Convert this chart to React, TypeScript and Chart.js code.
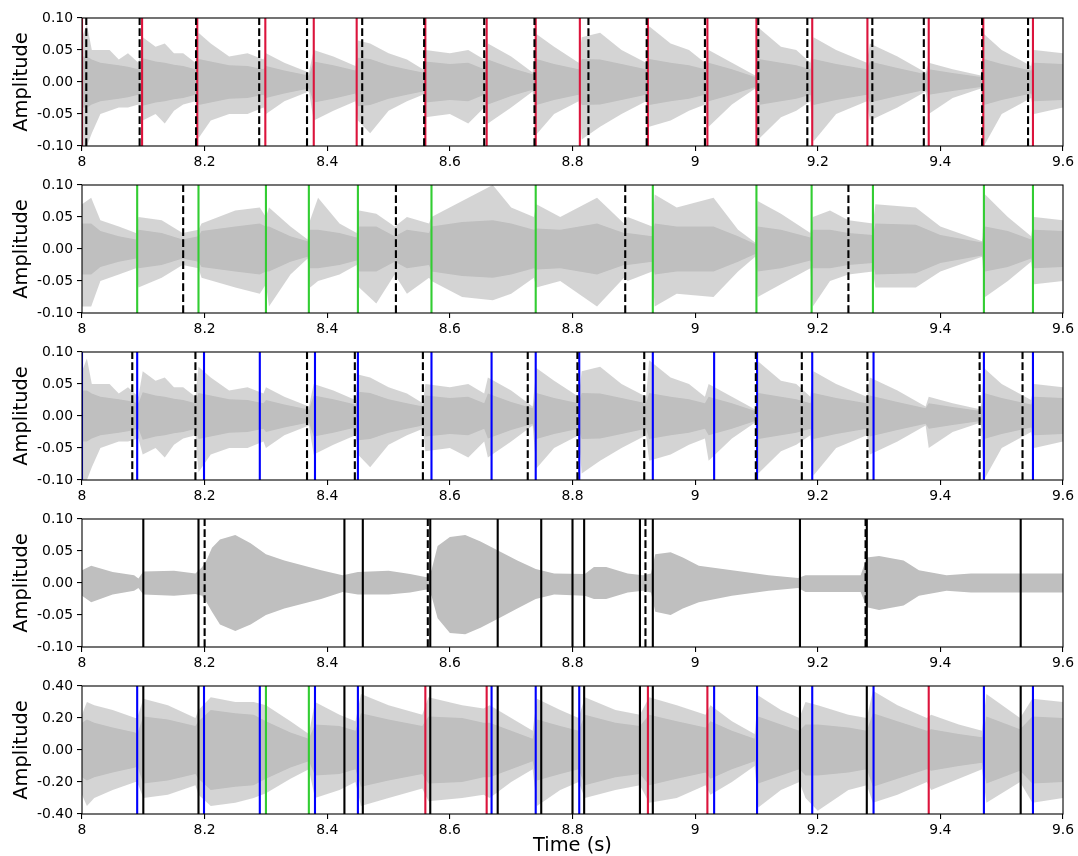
import React, { useEffect, useRef } from "react";
import { Chart, registerables } from "chart.js";
Chart.register(...registerables);

const FONT = "'DejaVu Sans', sans-serif";
const GRAY = "#bfbfbf";
const GRAY_SPIKES = "rgba(191,191,191,0.68)";

// ---- tick values ----
const xTicks = [8, 8.2, 8.4, 8.6, 8.8, 9, 9.2, 9.4, 9.6];
const yTicksStem = [-0.1, -0.05, 0, 0.05, 0.1];
const yTicksMix = [-0.4, -0.2, 0, 0.2, 0.4];

// ---- waveform envelopes: [time, upper peak, lower peak, dense core half-width] ----
// panels 1 and 3 show the same signal
const percEnvelope: number[][] = [
  [8.0, 0.07, -0.1, 0.04], [8.008, 0.09, -0.1, 0.04], [8.016, 0.05, -0.08, 0.035], [8.03, 0.05, -0.05, 0.03],
  [8.045, 0.05, -0.045, 0.028], [8.06, 0.035, -0.04, 0.026], [8.075, 0.045, -0.04, 0.024], [8.092, 0.03, -0.035, 0.02],
  [8.099, 0.07, -0.06, 0.037], [8.12, 0.055, -0.05, 0.032], [8.135, 0.06, -0.065, 0.03], [8.15, 0.045, -0.045, 0.027],
  [8.165, 0.045, -0.035, 0.025], [8.185, 0.03, -0.03, 0.02], [8.19, 0.077, -0.088, 0.036], [8.21, 0.06, -0.06, 0.032],
  [8.24, 0.04, -0.05, 0.026], [8.27, 0.045, -0.05, 0.025], [8.296, 0.035, -0.04, 0.02], [8.3, 0.045, -0.05, 0.025],
  [8.33, 0.03, -0.03, 0.018], [8.37, 0.015, -0.015, 0.01], [8.378, 0.05, -0.06, 0.032], [8.41, 0.04, -0.045, 0.026],
  [8.446, 0.025, -0.03, 0.018], [8.45, 0.065, -0.06, 0.038], [8.47, 0.06, -0.08, 0.036], [8.5, 0.045, -0.045, 0.026],
  [8.53, 0.035, -0.03, 0.02], [8.556, 0.02, -0.02, 0.015], [8.56, 0.05, -0.055, 0.032], [8.6, 0.045, -0.05, 0.028],
  [8.63, 0.05, -0.065, 0.03], [8.656, 0.035, -0.04, 0.02], [8.662, 0.06, -0.065, 0.035], [8.7, 0.04, -0.04, 0.022],
  [8.735, 0.015, -0.015, 0.012], [8.741, 0.075, -0.082, 0.036], [8.77, 0.055, -0.05, 0.028], [8.81, 0.03, -0.03, 0.02],
  [8.815, 0.07, -0.09, 0.036], [8.845, 0.077, -0.07, 0.035], [8.88, 0.05, -0.05, 0.028], [8.92, 0.03, -0.03, 0.02],
  [8.925, 0.087, -0.07, 0.036], [8.96, 0.06, -0.06, 0.03], [8.99, 0.05, -0.045, 0.026], [9.016, 0.03, -0.035, 0.02],
  [9.022, 0.05, -0.07, 0.03], [9.06, 0.03, -0.035, 0.02], [9.098, 0.01, -0.01, 0.008], [9.103, 0.085, -0.09, 0.036],
  [9.14, 0.055, -0.055, 0.03], [9.165, 0.05, -0.045, 0.026], [9.188, 0.03, -0.03, 0.02], [9.193, 0.07, -0.093, 0.036],
  [9.23, 0.05, -0.05, 0.028], [9.28, 0.03, -0.03, 0.02], [9.285, 0.06, -0.06, 0.032], [9.33, 0.04, -0.04, 0.022],
  [9.376, 0.015, -0.015, 0.012], [9.381, 0.03, -0.05, 0.02], [9.42, 0.02, -0.025, 0.014], [9.466, 0.01, -0.01, 0.008],
  [9.471, 0.075, -0.1, 0.036], [9.5, 0.05, -0.05, 0.028], [9.548, 0.025, -0.025, 0.018], [9.553, 0.05, -0.05, 0.03],
  [9.6, 0.045, -0.04, 0.028],
];

const panel2Envelope: number[][] = [
  [8.0, 0.07, -0.09, 0.04], [8.015, 0.08, -0.09, 0.04], [8.03, 0.045, -0.05, 0.028], [8.06, 0.035, -0.04, 0.02],
  [8.088, 0.025, -0.03, 0.015], [8.092, 0.05, -0.06, 0.03], [8.13, 0.045, -0.045, 0.025], [8.164, 0.025, -0.025, 0.015],
  [8.19, 0.03, -0.03, 0.02], [8.195, 0.04, -0.045, 0.028], [8.25, 0.06, -0.06, 0.035], [8.29, 0.065, -0.07, 0.04],
  [8.3, 0.05, -0.055, 0.035], [8.305, 0.065, -0.09, 0.035], [8.34, 0.035, -0.04, 0.02], [8.368, 0.015, -0.015, 0.012],
  [8.372, 0.045, -0.06, 0.03], [8.385, 0.08, -0.05, 0.03], [8.42, 0.04, -0.04, 0.025], [8.448, 0.025, -0.025, 0.018],
  [8.452, 0.06, -0.06, 0.035], [8.48, 0.055, -0.085, 0.035], [8.51, 0.035, -0.04, 0.02], [8.53, 0.05, -0.07, 0.03],
  [8.566, 0.04, -0.045, 0.025], [8.57, 0.05, -0.05, 0.035], [8.62, 0.075, -0.075, 0.042], [8.67, 0.1, -0.08, 0.045],
  [8.7, 0.065, -0.07, 0.04], [8.737, 0.05, -0.045, 0.03], [8.741, 0.07, -0.06, 0.032], [8.78, 0.05, -0.05, 0.03],
  [8.84, 0.08, -0.09, 0.04], [8.884, 0.04, -0.045, 0.025], [8.89, 0.05, -0.05, 0.025], [8.93, 0.035, -0.035, 0.02],
  [8.934, 0.085, -0.09, 0.04], [8.97, 0.065, -0.07, 0.035], [9.03, 0.08, -0.075, 0.035], [9.07, 0.03, -0.035, 0.02],
  [9.098, 0.01, -0.012, 0.008], [9.102, 0.075, -0.075, 0.035], [9.14, 0.055, -0.055, 0.03], [9.188, 0.025, -0.03, 0.018],
  [9.192, 0.05, -0.09, 0.03], [9.22, 0.06, -0.05, 0.03], [9.25, 0.045, -0.04, 0.025], [9.29, 0.04, -0.035, 0.022],
  [9.294, 0.07, -0.06, 0.04], [9.36, 0.065, -0.06, 0.038], [9.4, 0.035, -0.035, 0.022], [9.468, 0.012, -0.012, 0.01],
  [9.473, 0.085, -0.075, 0.035], [9.51, 0.05, -0.05, 0.028], [9.548, 0.02, -0.02, 0.015], [9.553, 0.05, -0.055, 0.03],
  [9.6, 0.045, -0.05, 0.028],
];

// tonal signal: [time, upper, lower]
const panel4Envelope: number[][] = [
  [8.0, 0.02, -0.02], [8.015, 0.027, -0.03], [8.05, 0.017, -0.018], [8.085, 0.012, -0.012], [8.092, 0.007, -0.008],
  [8.1, 0.018, -0.018], [8.15, 0.019, -0.02], [8.185, 0.015, -0.017], [8.196, 0.025, -0.02], [8.203, 0.035, -0.03],
  [8.212, 0.055, -0.045], [8.225, 0.068, -0.065], [8.25, 0.075, -0.075], [8.275, 0.062, -0.065], [8.3, 0.045, -0.05],
  [8.33, 0.035, -0.04], [8.39, 0.02, -0.025], [8.425, 0.012, -0.014], [8.45, 0.017, -0.018], [8.5, 0.019, -0.018],
  [8.535, 0.014, -0.015], [8.562, 0.009, -0.01], [8.57, 0.02, -0.02], [8.58, 0.058, -0.055], [8.6, 0.072, -0.078],
  [8.625, 0.075, -0.08], [8.65, 0.065, -0.07], [8.68, 0.05, -0.055], [8.71, 0.035, -0.04], [8.74, 0.022, -0.025],
  [8.77, 0.015, -0.018], [8.82, 0.014, -0.02], [8.835, 0.025, -0.025], [8.855, 0.025, -0.025], [8.89, 0.015, -0.015],
  [8.915, 0.012, -0.012], [8.928, 0.015, -0.015], [8.935, 0.045, -0.045], [8.96, 0.048, -0.05], [8.98, 0.04, -0.04],
  [9.006, 0.027, -0.03], [9.06, 0.02, -0.02], [9.12, 0.012, -0.012], [9.168, 0.008, -0.008], [9.18, 0.012, -0.014],
  [9.27, 0.012, -0.014], [9.28, 0.04, -0.038], [9.3, 0.042, -0.042], [9.34, 0.035, -0.035], [9.365, 0.02, -0.02],
  [9.41, 0.012, -0.012], [9.45, 0.015, -0.015], [9.6, 0.015, -0.015],
];

const mixEnvelope: number[][] = [
  [8.0, 0.22, -0.28, 0.17], [8.008, 0.3, -0.35, 0.19], [8.02, 0.28, -0.3, 0.17], [8.05, 0.25, -0.25, 0.14],
  [8.087, 0.2, -0.2, 0.11], [8.09, 0.2, -0.2, 0.1], [8.1, 0.32, -0.3, 0.21], [8.14, 0.28, -0.28, 0.19],
  [8.185, 0.2, -0.22, 0.15], [8.19, 0.25, -0.28, 0.18], [8.21, 0.33, -0.35, 0.25], [8.25, 0.3, -0.33, 0.23],
  [8.28, 0.3, -0.3, 0.22], [8.3, 0.28, -0.27, 0.18], [8.34, 0.18, -0.18, 0.11], [8.37, 0.1, -0.12, 0.07],
  [8.38, 0.3, -0.3, 0.16], [8.42, 0.22, -0.25, 0.15], [8.446, 0.18, -0.2, 0.12], [8.455, 0.35, -0.35, 0.23],
  [8.5, 0.28, -0.3, 0.19], [8.555, 0.22, -0.24, 0.15], [8.565, 0.33, -0.32, 0.21], [8.62, 0.28, -0.3, 0.2],
  [8.655, 0.26, -0.28, 0.17], [8.665, 0.28, -0.3, 0.17], [8.7, 0.2, -0.2, 0.12], [8.735, 0.12, -0.12, 0.07],
  [8.742, 0.32, -0.35, 0.19], [8.78, 0.25, -0.25, 0.15], [8.81, 0.2, -0.2, 0.12], [8.82, 0.33, -0.3, 0.22],
  [8.87, 0.25, -0.25, 0.17], [8.91, 0.22, -0.22, 0.15], [8.925, 0.33, -0.33, 0.22], [8.97, 0.28, -0.3, 0.18],
  [9.017, 0.22, -0.22, 0.14], [9.025, 0.28, -0.28, 0.18], [9.06, 0.18, -0.2, 0.12], [9.097, 0.1, -0.1, 0.07],
  [9.103, 0.34, -0.36, 0.21], [9.14, 0.25, -0.25, 0.16], [9.17, 0.2, -0.2, 0.12], [9.18, 0.3, -0.3, 0.16],
  [9.2, 0.28, -0.38, 0.16], [9.25, 0.22, -0.25, 0.14], [9.28, 0.2, -0.22, 0.12], [9.29, 0.37, -0.33, 0.23],
  [9.33, 0.28, -0.28, 0.18], [9.378, 0.2, -0.2, 0.12], [9.385, 0.22, -0.25, 0.13], [9.43, 0.16, -0.18, 0.1],
  [9.468, 0.12, -0.12, 0.08], [9.475, 0.35, -0.33, 0.21], [9.53, 0.2, -0.2, 0.13], [9.55, 0.32, -0.33, 0.21],
  [9.6, 0.3, -0.3, 0.2],
];

// ---- vertical markers (seconds) ----
const p1Red = [8.0, 8.098, 8.188, 8.299, 8.378, 8.448, 8.56, 8.66, 8.74, 8.812, 8.923, 9.02, 9.1, 9.191, 9.281, 9.381, 9.47, 9.551];
const p1Dashed = [8.007, 8.094, 8.186, 8.289, 8.367, 8.457, 8.558, 8.656, 8.738, 8.826, 8.921, 9.016, 9.103, 9.183, 9.289, 9.373, 9.468, 9.543];
const p2Green = [8.09, 8.19, 8.3, 8.37, 8.45, 8.57, 8.74, 8.931, 9.1, 9.19, 9.29, 9.471, 9.551];
const p2Dashed = [8.165, 8.512, 8.886, 9.25];
const p3Blue = [8.0, 8.09, 8.199, 8.29, 8.38, 8.45, 8.57, 8.668, 8.74, 8.811, 8.931, 9.031, 9.101, 9.191, 9.291, 9.471, 9.551];
const p3Dashed = [8.082, 8.185, 8.367, 8.445, 8.556, 8.727, 8.808, 8.917, 9.099, 9.174, 9.281, 9.464, 9.534];
const p4Solid = [8.1, 8.19, 8.428, 8.458, 8.568, 8.678, 8.749, 8.8, 8.819, 8.91, 8.931, 9.171, 9.28, 9.531];
const p4Dashed = [8.2, 8.564, 8.919, 9.278];
const p5Black = [8.1, 8.19, 8.428, 8.458, 8.568, 8.678, 8.749, 8.8, 8.819, 8.91, 8.931, 9.171, 9.28, 9.531];
const p5Blue = [8.09, 8.199, 8.29, 8.38, 8.45, 8.668, 8.74, 8.811, 9.031, 9.101, 9.191, 9.291, 9.471, 9.551];
const p5Green = [8.3, 8.37];
const p5Red = [8.56, 8.66, 8.923, 9.02, 9.381];

const RED = "#dc143c";
const GREEN = "#32cd32";
const BLUE = "#0000ff";
const BLACK = "#000000";

interface LineSet { times: number[]; color: string; dashed: boolean; order: number }
interface PanelSpec { env: number[][]; yMax: number; yTicks: number[]; lines: LineSet[]; top: number; height: number; last: boolean }

const PLOT_TOP = 18;
const PLOT_H = 128;
const PLOT_LEFT = 82;
const PLOT_RIGHT_PAD = 15;

const panels: PanelSpec[] = [
  { env: percEnvelope, yMax: 0.1, yTicks: yTicksStem, top: 0, height: 167, last: false,
    lines: [ { times: p1Red, color: RED, dashed: false, order: 2 }, { times: p1Dashed, color: BLACK, dashed: true, order: 1 } ] },
  { env: panel2Envelope, yMax: 0.1, yTicks: yTicksStem, top: 167, height: 167, last: false,
    lines: [ { times: p2Green, color: GREEN, dashed: false, order: 2 }, { times: p2Dashed, color: BLACK, dashed: true, order: 1 } ] },
  { env: percEnvelope, yMax: 0.1, yTicks: yTicksStem, top: 334, height: 167, last: false,
    lines: [ { times: p3Blue, color: BLUE, dashed: false, order: 2 }, { times: p3Dashed, color: BLACK, dashed: true, order: 1 } ] },
  { env: panel4Envelope, yMax: 0.1, yTicks: yTicksStem, top: 501, height: 167, last: false,
    lines: [ { times: p4Solid, color: BLACK, dashed: false, order: 2 }, { times: p4Dashed, color: BLACK, dashed: true, order: 1 } ] },
  { env: mixEnvelope, yMax: 0.4, yTicks: yTicksMix, top: 668, height: 188, last: true,
    lines: [
      { times: p5Black, color: BLACK, dashed: false, order: 4 },
      { times: p5Blue, color: BLUE, dashed: false, order: 3 },
      { times: p5Green, color: GREEN, dashed: false, order: 2 },
      { times: p5Red, color: RED, dashed: false, order: 1 },
    ] },
];

const framePlugin = {
  id: "frame",
  afterDatasetsDraw(chart: any) {
    const { ctx, chartArea } = chart;
    ctx.save();
    ctx.strokeStyle = "#000";
    ctx.lineWidth = 1.1;
    ctx.strokeRect(chartArea.left, chartArea.top, chartArea.right - chartArea.left, chartArea.bottom - chartArea.top);
    ctx.restore();
  },
};

function buildDatasets(spec: PanelSpec): any[] {
  const ds: any[] = [];
  const hasCore = spec.env[0].length > 3;
  const base = { pointRadius: 0, borderColor: "rgba(0,0,0,0)", borderWidth: 1, tension: 0 };
  ds.push({ ...base, data: spec.env.map((r) => ({ x: r[0], y: r[1] })), fill: "+1", backgroundColor: hasCore ? GRAY_SPIKES : GRAY, order: 20 });
  ds.push({ ...base, data: spec.env.map((r) => ({ x: r[0], y: r[2] })), fill: false, order: 19 });
  if (hasCore) {
    ds.push({ ...base, data: spec.env.map((r) => ({ x: r[0], y: r[3] })), fill: "+1", backgroundColor: GRAY, order: 18 });
    ds.push({ ...base, data: spec.env.map((r) => ({ x: r[0], y: -r[3] })), fill: false, order: 17 });
  }
  for (const l of spec.lines) {
    ds.push({
      data: l.times.flatMap((t) => [ { x: t, y: -spec.yMax }, { x: t, y: spec.yMax }, { x: t, y: null } ]),
      borderColor: l.color,
      borderWidth: 2.1,
      borderDash: l.dashed ? [7.7, 3.3] : [],
      pointRadius: 0,
      fill: false,
      spanGaps: false,
      tension: 0,
      order: l.order,
    });
  }
  return ds;
}

function Panel({ spec }: { spec: PanelSpec }) {
  const ref = useRef<HTMLCanvasElement | null>(null);
  useEffect(() => {
    if (!ref.current) return;
    const tickFont = { family: FONT, size: 13.9 };
    const gridOpts = { display: true, drawOnChartArea: false, drawTicks: true, tickLength: 5, color: "#000", lineWidth: 1.1 };
    const chart = new Chart(ref.current, {
      type: "line",
      data: { datasets: buildDatasets(spec) },
      plugins: [framePlugin],
      options: {
        animation: false,
        responsive: false,
        events: [],
        layout: { padding: { top: PLOT_TOP, right: PLOT_RIGHT_PAD, left: 0, bottom: 0 } },
        plugins: { legend: { display: false }, tooltip: { enabled: false } },
        scales: {
          x: {
            type: "linear",
            min: 8,
            max: 9.6,
            afterBuildTicks: (s: any) => { s.ticks = xTicks.map((v) => ({ value: v })); },
            afterFit: (s: any) => { s.height = spec.height - PLOT_TOP - PLOT_H; },
            ticks: { autoSkip: false, maxRotation: 0, minRotation: 0, color: "#000", font: tickFont, padding: 3,
              callback: (v: any) => String(Math.round(Number(v) * 10) / 10) },
            grid: gridOpts,
            border: { display: false },
            title: { display: spec.last, text: "Time (s)", color: "#000", font: { family: FONT, size: 19.4, lineHeight: 1 }, padding: { top: 0, bottom: 0 } },
          },
          y: {
            type: "linear",
            min: -spec.yMax,
            max: spec.yMax,
            afterBuildTicks: (s: any) => { s.ticks = spec.yTicks.map((v) => ({ value: v })); },
            afterFit: (s: any) => { s.width = PLOT_LEFT; },
            ticks: { color: "#000", font: tickFont, padding: 4, callback: (v: any) => Number(v).toFixed(2) },
            grid: gridOpts,
            border: { display: false },
            title: { display: true, text: "Amplitude", color: "#000", font: { family: FONT, size: 19.4 }, padding: { top: 10, bottom: 0 } },
          },
        },
      } as any,
    });
    return () => chart.destroy();
  }, [spec]);
  return (
    <canvas
      ref={ref}
      width={1078}
      height={spec.height}
      style={{ position: "absolute", left: 0, top: spec.top, width: 1078, height: spec.height, display: "block" }}
    />
  );
}

export default function App() {
  return (
    <div style={{ position: "absolute", left: 0, top: 0, width: 1078, height: 856, background: "#fff", overflow: "hidden" }}>
      {panels.map((p, i) => (
        <Panel key={i} spec={p} />
      ))}
    </div>
  );
}
